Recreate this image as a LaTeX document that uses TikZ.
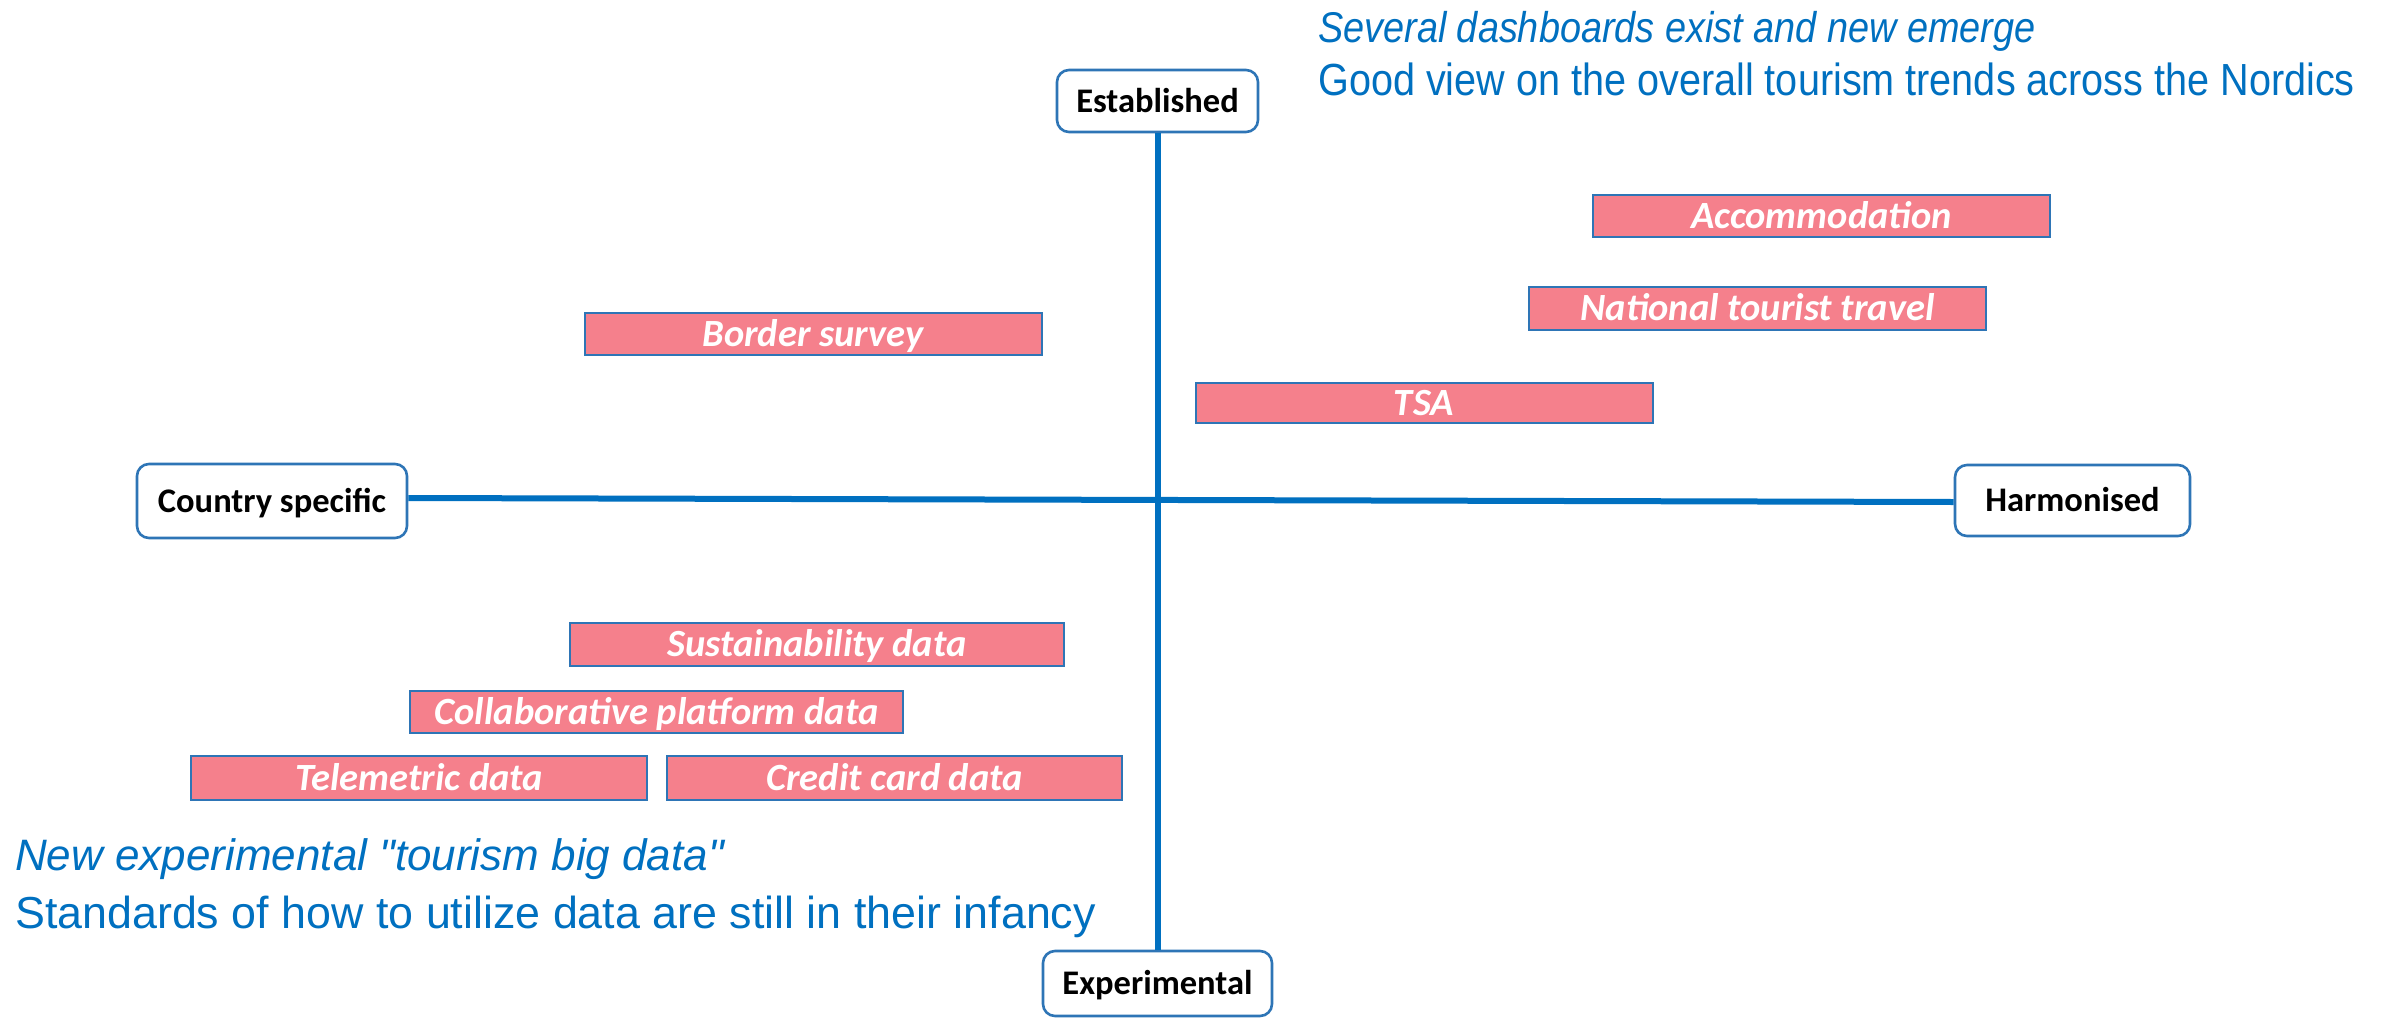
\documentclass[tikz,border=0pt]{standalone}
\usepackage{fontspec}
\setmainfont{Liberation Sans}
\newfontfamily\labelfont{Carlito}
\newfontfamily\notefont{Liberation Sans}
\newfontfamily\narrownotefont[FakeStretch=0.88]{Liberation Sans}

\definecolor{axisblue}{RGB}{0,112,192}
\definecolor{edgeblue}{RGB}{46,117,182}
\definecolor{tagpink}{RGB}{245,128,140}

\begin{document}
\begin{tikzpicture}[x=1pt,y=-1pt,
  axislabel/.style={draw=edgeblue, line width=2.6pt, rounded corners=12pt,
    fill=white, text=black, inner sep=0pt,
    font=\labelfont\bfseries\fontsize{34.5}{40}\selectfont,
    text height=22pt, text depth=0pt},
  tag/.style={draw=edgeblue, line width=2pt, fill=tagpink, text=white,
    inner sep=0pt, minimum width=457pt, minimum height=42pt,
    font=\labelfont\bfseries\itshape\fontsize{38.5}{44}\selectfont,
    text height=24pt, text depth=0pt},
  note/.style={text=axisblue, anchor=base west, inner sep=0pt},
  axisline/.style={draw=axisblue, line width=6pt}]

\useasboundingbox[fill=white] (0,0) rectangle (2384,1020);

% axis end labels
\node[axislabel, minimum width=201pt, minimum height=62pt] (est) at (1157.5,101) {Established};
\node[axislabel, minimum width=229pt, minimum height=65pt] (exp) at (1157.5,983.5) {Experimental};
\node[axislabel, minimum width=270pt, minimum height=74pt] (cty) at (272,501) {Country specific};
\node[axislabel, minimum width=235pt, minimum height=71pt] (harm) at (2072.5,500.5) {Harmonised};

% the two axes
\draw[axisline] (est.south) -- (exp.north);
\draw[axisline] ([yshift=3pt]cty.east) -- ([yshift=-1.5pt]harm.west);

% data sources
\node[tag] (acc) at (1821.5,216) {Accommodation};
\node[tag, minimum height=43pt] (ntt) at (1757.5,308.5) {National tourist travel};
\node[tag] (bs) at (813,334) {Border survey};
\node[tag, minimum height=40pt] (tsa) at (1424,403) {TSA};
\node[tag, minimum width=494pt, minimum height=43pt] (sus) at (817,644.5) {Sustainability data};
\node[tag, minimum width=493pt] (col) at (656.5,712) {Collaborative platform data};
\node[tag, minimum width=456pt, minimum height=44pt] (tel) at (419,778) {Telemetric data};
\node[tag, minimum width=455pt, minimum height=44pt] (ccd) at (894.5,778) {Credit card data};

% commentary
\node[note, font=\narrownotefont\itshape\fontsize{43}{50}\selectfont] (n1) at (1318,42) {Several dashboards exist and new emerge};
\node[note, font=\narrownotefont\fontsize{45}{52}\selectfont] (n2) at (1318,95) {Good view on the overall tourism trends across the Nordics};
\node[note, font=\notefont\itshape\fontsize{44}{52}\selectfont] (n3) at (15,870) {New experimental "tourism big data"};
\node[note, font=\notefont\fontsize{44.8}{52}\selectfont] (n4) at (15,928) {Standards of how to utilize data are still in their infancy};
\end{tikzpicture}
\end{document}
